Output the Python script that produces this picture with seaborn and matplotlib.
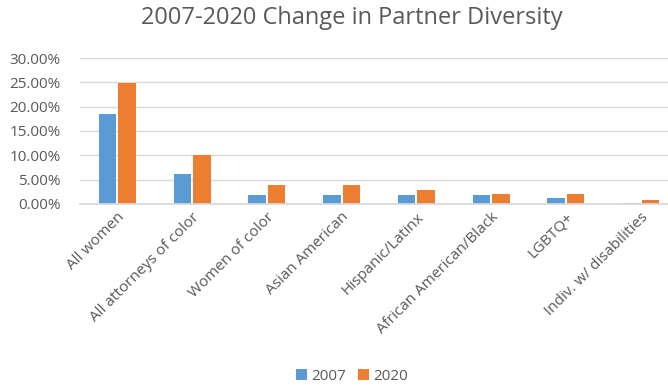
import matplotlib
matplotlib.use("Agg")
import matplotlib.pyplot as plt
import seaborn as sns
import pandas as pd
from matplotlib.ticker import FuncFormatter, MultipleLocator

categories = ["All women", "All attorneys of color", "Women of color", "Asian American",
              "Hispanic/Latinx", "African American/Black", "LGBTQ+", "Indiv. w/ disabilities"]
years = ["2007", "2020"]
values_2007 = [18.4, 6.2, 1.85, 1.85, 1.9, 1.9, 1.2, 0.3]
values_2020 = [24.8, 10.1, 3.9, 3.9, 2.9, 2.1, 2.1, 0.9]

df = pd.DataFrame({
    "category": categories * 2,
    "year": [years[0]] * len(categories) + [years[1]] * len(categories),
    "value": values_2007 + values_2020,
})

sns.set_theme(style="white")
plt.rcParams["font.family"] = ["Open Sans", "DejaVu Sans"]

fig = plt.figure(figsize=(6.68, 3.85), dpi=100)
ax = fig.add_axes([80 / 668, 1 - 204 / 385, 598 / 668, (204 - 58) / 385])

palette = {"2007": "#5B9BD5", "2020": "#ED7D31"}
sns.barplot(data=df, x="category", y="value", hue="year", palette=palette,
            width=0.52, gap=0.1, ax=ax, legend=True, saturation=1, linewidth=0)

ax.set_ylim(0, 30)
ax.yaxis.set_major_locator(MultipleLocator(5))
ax.yaxis.set_major_formatter(FuncFormatter(lambda v, p: f"{v:.2f}%"))
ax.grid(axis="y", color="#d9d9d9", linewidth=1)
ax.set_axisbelow(True)
for s in ["top", "right", "left"]:
    ax.spines[s].set_visible(False)
ax.spines["bottom"].set_color("#d9d9d9")
ax.tick_params(axis="both", length=0, colors="#595959", labelsize=11)
ax.tick_params(axis="y", pad=14)
ax.tick_params(axis="x", pad=4)
ax.set_xlabel("")
ax.set_ylabel("")
plt.setp(ax.get_xticklabels(), rotation=45, ha="right", rotation_mode="anchor")

ax.legend_.remove()
handles, labels = ax.get_legend_handles_labels()
fig.legend(handles, labels, loc="center", bbox_to_anchor=(352 / 668, 1 - 376 / 385),
           ncol=2, frameon=False, fontsize=11, handlelength=0.7, handleheight=0.7,
           handletextpad=0.3, columnspacing=0.8, labelcolor="#595959")

fig.text(352 / 668, 1 - 18 / 385, "2007-2020 Change in Partner Diversity",
         ha="center", va="center", fontsize=17, color="#595959")

fig.savefig("out.png", dpi=100)
